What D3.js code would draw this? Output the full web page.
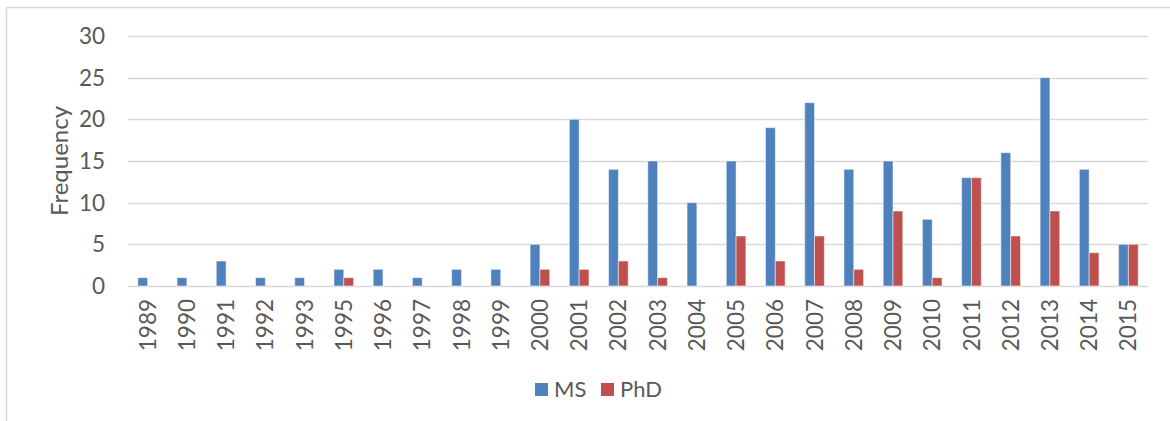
<!DOCTYPE html>
<html><head><meta charset="utf-8">
<script src="https://cdn.jsdelivr.net/npm/d3@7"></script>
<style>body{margin:0;background:#fff;} text{font-family:Lato,"Open Sans",sans-serif;fill:#595959;}</style>
</head><body>
<svg id="c" width="1170" height="421"></svg>
<script>
const years = ["1989","1990","1991","1992","1993","1995","1996","1997","1998","1999","2000","2001","2002","2003","2004","2005","2006","2007","2008","2009","2010","2011","2012","2013","2014","2015"];
const msValues = [1,1,3,1,1,2,2,1,2,2,5,20,14,15,10,15,19,22,14,15,8,13,16,25,14,5];
const phdValues = [0,0,0,0,0,1,0,0,0,0,2,2,3,1,0,6,3,6,2,9,1,13,6,9,4,5];
const yTicks = [0,5,10,15,20,25,30];
const seriesNames = ["MS","PhD"];
const colors = ["#4F81BD","#C0504D"];

const svg = d3.select("#c");
// frame
svg.append("line").attr("x1",6.5).attr("x2",1170).attr("y1",7.5).attr("y2",7.5).attr("stroke","#d9d9d9").attr("stroke-width",1.5);
svg.append("line").attr("x1",6.5).attr("x2",6.5).attr("y1",7.5).attr("y2",421).attr("stroke","#d9d9d9").attr("stroke-width",1.5);

const x0 = d3.scaleBand().domain(years).range([128,1148]).paddingInner(0.5).paddingOuter(0.25);
const x1 = d3.scaleBand().domain(seriesNames).range([0,x0.bandwidth()]);
const y = d3.scaleLinear().domain([0,30]).range([286,36]);

// gridlines
svg.append("g").selectAll("line").data(yTicks).join("line")
  .attr("x1",128).attr("x2",1148).attr("y1",d=>Math.round(y(d))+0.5).attr("y2",d=>Math.round(y(d))+0.5)
  .attr("stroke","#d9d9d9").attr("stroke-width",1.5);

// y tick labels
svg.append("g").selectAll("text").data(yTicks).join("text")
  .attr("x",105).attr("y",d=>y(d)).attr("dy","0.36em").attr("text-anchor","end")
  .style("font-size","22.5px").text(d=>d);

// axis title
svg.append("text").attr("transform","translate(68,161) rotate(-90)").attr("text-anchor","middle")
  .style("font-size","24px").text("Frequency");

// bars
const rows = years.map((yr,i)=>({yr, vals:[msValues[i],phdValues[i]]}));
const g = svg.append("g");
rows.forEach(r=>{
  r.vals.forEach((v,j)=>{
    if(v<=0) return;
    g.append("rect").attr("x",x0(r.yr)+x1(seriesNames[j])).attr("width",x1.bandwidth())
      .attr("y",y(v)).attr("height",y(0)-y(v)).attr("fill",colors[j])
      .attr("stroke","#ffffff").attr("stroke-opacity",0.5).attr("stroke-width",1);
  });
});

// x tick labels
svg.append("g").selectAll("text").data(years).join("text")
  .attr("transform",d=>`translate(${x0(d)+x0.bandwidth()/2},299) rotate(-90)`)
  .attr("text-anchor","end").attr("dy","0.36em").style("font-size","22.5px").text(d=>d);

// legend
const leg = svg.append("g");
const legX = [535,601];
seriesNames.forEach((n,i)=>{
  leg.append("rect").attr("x",legX[i]).attr("y",383).attr("width",13).attr("height",13).attr("fill",colors[i]);
  leg.append("text").attr("x",legX[i]+19).attr("y",389.5).attr("dy","0.36em").style("font-size","22px").text(n);
});
</script>
</body></html>
